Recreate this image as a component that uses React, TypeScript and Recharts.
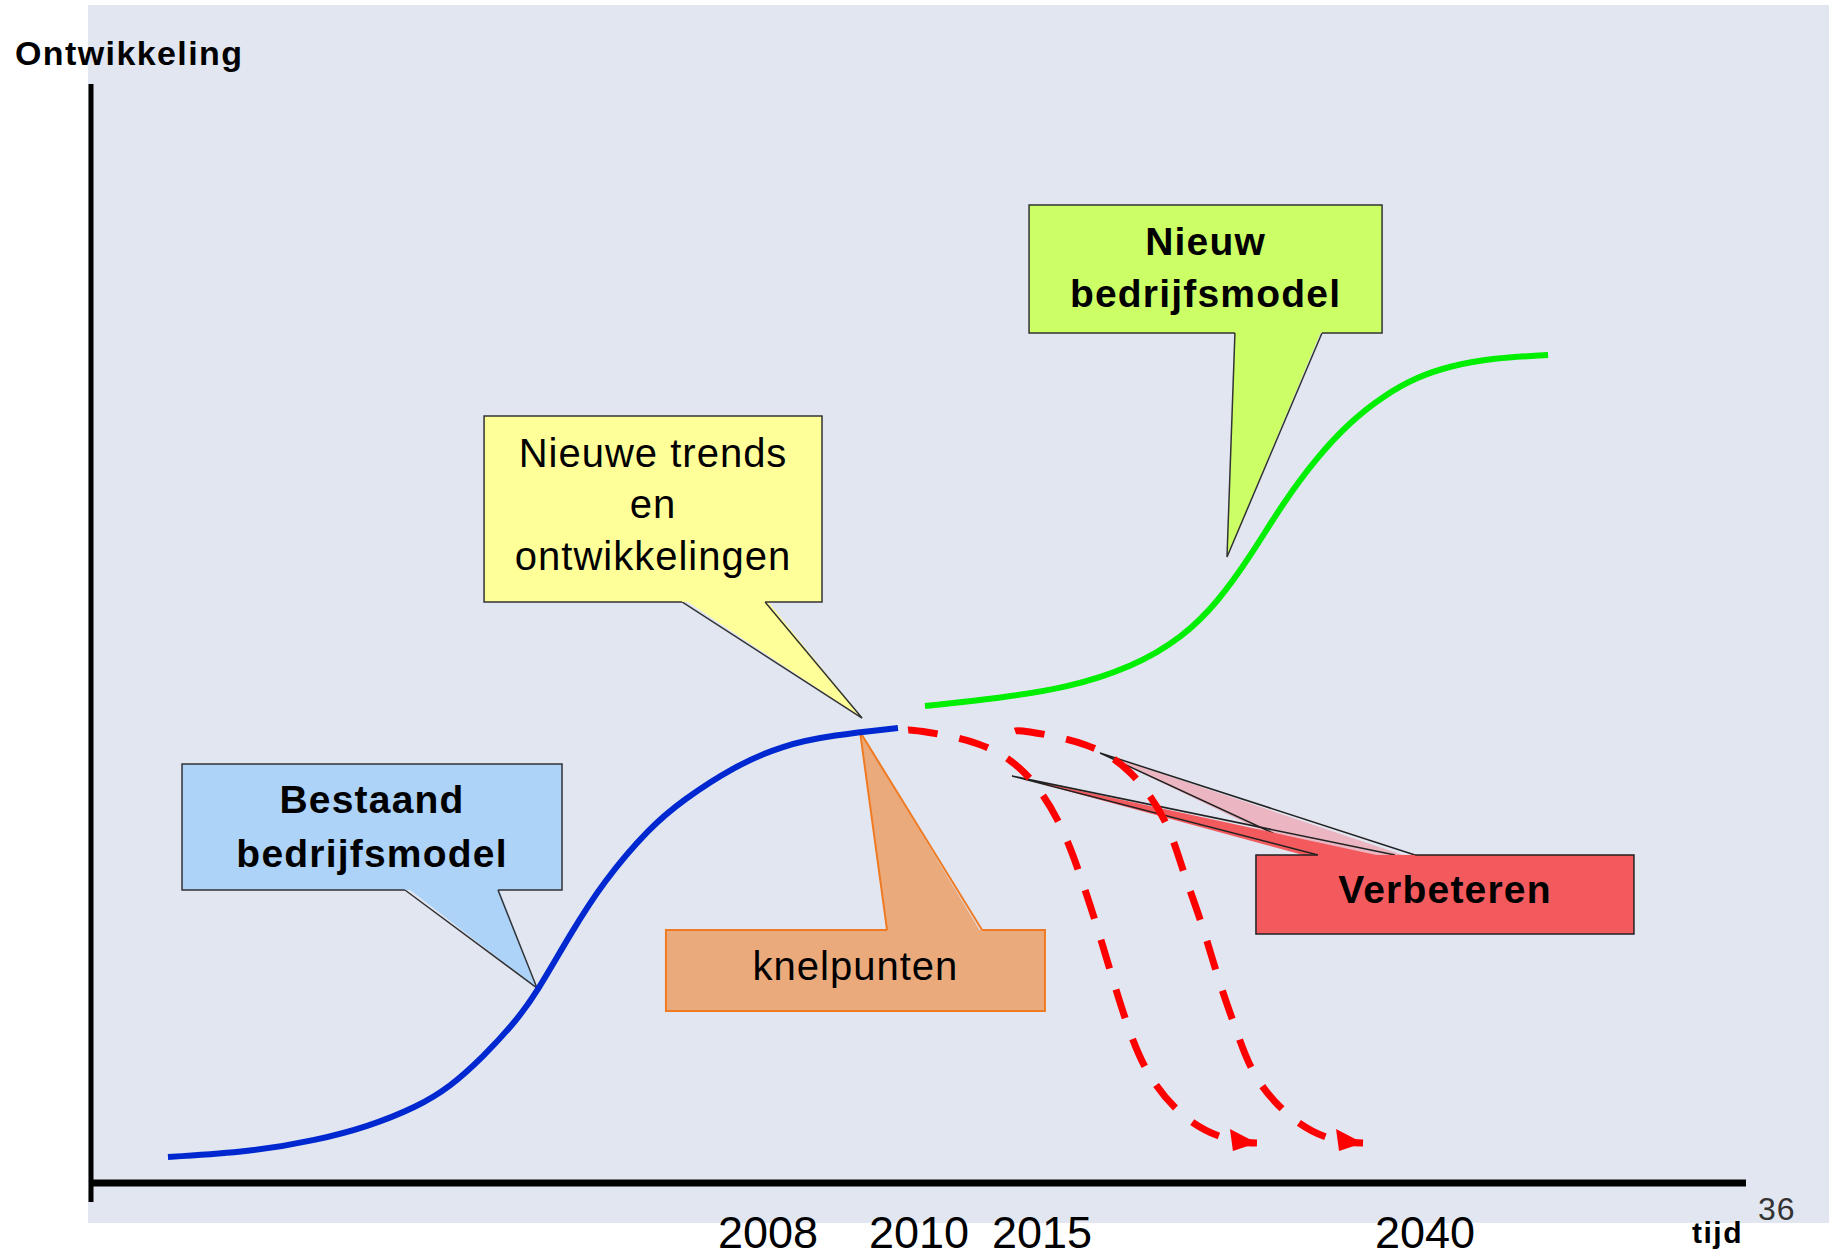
import React from 'react';
import { LineChart, Line, XAxis, YAxis, ReferenceArea, ReferenceLine } from 'recharts';

const FONT = "'Liberation Sans', Arial, Helvetica, sans-serif";

// x: tijd (arbitrary 0..100 units), y: ontwikkeling (0..100)
const bestaandModel = [
  { x: 4.65, y: 2.37 }, { x: 9.61, y: 2.82 }, { x: 13.66, y: 3.91 }, { x: 16.68, y: 5.1 },
  { x: 19.7, y: 6.92 }, { x: 21.69, y: 8.74 }, { x: 23.69, y: 11.47 }, { x: 25.74, y: 14.83 },
  { x: 26.95, y: 17.38 }, { x: 28.94, y: 22.6 }, { x: 30.94, y: 27.4 }, { x: 33.78, y: 32.39 },
  { x: 35.77, y: 34.85 }, { x: 38.79, y: 37.85 }, { x: 41.81, y: 39.85 }, { x: 44.83, y: 40.76 },
  { x: 48.76, y: 41.4 },
];

const nieuwModel = [
  { x: 50.39, y: 43.4 }, { x: 54.92, y: 44.13 }, { x: 58.97, y: 45.04 }, { x: 62.96, y: 46.95 },
  { x: 65.98, y: 49.68 }, { x: 68.04, y: 52.78 }, { x: 70.03, y: 56.96 }, { x: 72.02, y: 61.87 },
  { x: 74.08, y: 66.06 }, { x: 76.07, y: 69.25 }, { x: 78.07, y: 71.61 }, { x: 80.12, y: 73.34 },
  { x: 82.11, y: 74.34 }, { x: 84.71, y: 75.07 }, { x: 88.04, y: 75.34 },
];

const verbeteren1 = [
  { x: 49.37, y: 41.22 }, { x: 50.27, y: 41.08 }, { x: 53.6, y: 39.95 }, { x: 56.44, y: 37.26 },
  { x: 58.4, y: 33.03 }, { x: 59.67, y: 28.39 }, { x: 60.73, y: 23.57 }, { x: 61.72, y: 18.65 },
  { x: 62.78, y: 13.74 }, { x: 64.23, y: 9.19 }, { x: 66.56, y: 5.51 }, { x: 68.94, y: 3.91 },
  { x: 70.45, y: 3.64 },
];

const verbeteren2 = [
  { x: 55.83, y: 41.13 }, { x: 56.74, y: 41.04 }, { x: 60.06, y: 39.88 }, { x: 62.83, y: 37.28 },
  { x: 64.85, y: 33.03 }, { x: 66.0, y: 28.41 }, { x: 67.11, y: 23.55 }, { x: 68.12, y: 18.63 },
  { x: 69.23, y: 13.77 }, { x: 70.59, y: 9.22 }, { x: 72.95, y: 5.51 }, { x: 75.23, y: 3.91 },
  { x: 76.86, y: 3.64 },
];

const tijdTicks = [40.91, 50.03, 57.46, 80.6];
const tijdLabels = ['2008', '2010', '2015', '2040'];

const textBestaand = ['Bestaand', 'bedrijfsmodel'];
const textTrends = ['Nieuwe trends', 'en', 'ontwikkelingen'];
const textNieuw = ['Nieuw', 'bedrijfsmodel'];
const textKnel = ['knelpunten'];
const textVerbeteren = ['Verbeteren'];

type Tail = { side: 'top' | 'bottom'; b1: number; b2: number; tx: number; ty: number; fill?: string };
type Callout = {
  x1: number; x2: number; yTop: number; yBot: number;
  lines: string[]; bold: boolean; fill: string; stroke: string; strokeWidth: number;
  baselines: number[]; tails: Tail[];
};

const callouts: Callout[] = [
  {
    x1: 5.5, x2: 28.46, yTop: 38.13, yBot: 26.66, lines: textBestaand, bold: true,
    fill: '#ADD3F8', stroke: '#333', strokeWidth: 1.5, baselines: [49, 103],
    tails: [{ side: 'bottom', b1: 18.97, b2: 24.59, tx: 26.95, ty: 17.74 }],
  },
  {
    x1: 23.75, x2: 44.17, yTop: 69.79, yBot: 52.87, lines: textTrends, bold: false,
    fill: '#FFFF99', stroke: '#333', strokeWidth: 1.5, baselines: [51, 102, 154],
    tails: [{ side: 'bottom', b1: 35.71, b2: 40.73, tx: 46.59, ty: 42.31 }],
  },
  {
    x1: 56.68, x2: 78.01, yTop: 88.99, yBot: 77.34, lines: textNieuw, bold: true,
    fill: '#CCFF66', stroke: '#333', strokeWidth: 1.5, baselines: [50, 102],
    tails: [{ side: 'bottom', b1: 69.12, b2: 74.38, tx: 68.64, ty: 56.96 }],
  },
  {
    x1: 34.74, x2: 57.64, yTop: 23.02, yBot: 15.65, lines: textKnel, bold: false,
    fill: '#EBAA7C', stroke: '#F07A22', strokeWidth: 2, baselines: [50],
    tails: [{ side: 'top', b1: 48.1, b2: 53.84, tx: 46.47, ty: 41.04 }],
  },
  {
    x1: 70.39, x2: 93.23, yTop: 29.85, yBot: 22.66, lines: textVerbeteren, bold: true,
    fill: '#F25A5E', stroke: '#222', strokeWidth: 1.5, baselines: [48],
    tails: [
      { side: 'top', b1: 74.26, b2: 80.0, tx: 60.97, ty: 39.13, fill: '#EBB6C1' },
      { side: 'top', b1: 74.14, b2: 78.79, tx: 55.65, ty: 37.03, fill: '#F25A5E' },
    ],
  },
];

const CalloutShape = (props: any) => {
  const { x, y, width, height, spec } = props;
  const c: Callout = spec;
  const sx = width / (c.x2 - c.x1);
  const sy = height / (c.yTop - c.yBot);
  const px = (v: number) => x + (v - c.x1) * sx;
  const py = (v: number) => y + (c.yTop - v) * sy;
  const left = x, right = x + width, top = y, bottom = y + height;
  const side = c.tails[0].side;
  const gapL = Math.min(...c.tails.map((t) => px(t.b1)));
  const gapR = Math.max(...c.tails.map((t) => px(t.b2)));
  const outline = side === 'bottom'
    ? `M${gapR},${bottom} L${right},${bottom} L${right},${top} L${left},${top} L${left},${bottom} L${gapL},${bottom}`
    : `M${gapL},${top} L${left},${top} L${left},${bottom} L${right},${bottom} L${right},${top} L${gapR},${top}`;
  const cx = (left + right) / 2;
  return (
    <g>
      {c.tails.map((t, i) => {
        const edge = t.side === 'bottom' ? bottom : top;
        const inset = t.side === 'bottom' ? -4 : 4;
        const a = px(t.b1), b = px(t.b2), tx = px(t.tx), ty = py(t.ty);
        return (
          <g key={i}>
            <path d={`M${a},${edge + inset} L${tx},${ty} L${b},${edge + inset} Z`} fill={t.fill || c.fill} stroke="none" />
            <path d={`M${a},${edge} L${tx},${ty} L${b},${edge}`} fill="none" stroke={c.stroke} strokeWidth={c.strokeWidth} strokeLinejoin="miter" />
          </g>
        );
      })}
      <rect x={left} y={top} width={width} height={height} fill={c.fill} stroke="none" />
      <path d={outline} fill="none" stroke={c.stroke} strokeWidth={c.strokeWidth} />
      {c.lines.map((ln, i) => (
        <text
          key={i}
          x={cx}
          y={top + c.baselines[i]}
          textAnchor="middle"
          fontFamily={FONT}
          fontSize={c.bold ? 39 : 40}
          fontWeight={c.bold ? 700 : 400}
          letterSpacing={c.bold ? 1.2 : 1}
          fill="#000"
        >
          {ln}
        </text>
      ))}
    </g>
  );
};

const renderTick = (props: any) => {
  const { x, y, payload } = props;
  const i = tijdTicks.indexOf(payload.value);
  return (
    <text x={x} y={y + 65} textAnchor="middle" fontFamily={FONT} fontSize={45} fill="#000">
      {i >= 0 ? tijdLabels[i] : ''}
    </text>
  );
};

const makeArrow = (len: number) => (props: any) => {
  const { cx, cy, index } = props;
  if (index !== len - 1 || cx == null || cy == null) return <g key={`d${index}`} />;
  return (
    <path
      key={`d${index}`}
      d={`M${cx},${cy} L${cx - 27},${cy - 14} L${cx - 24},${cy + 8} Z`}
      fill="#FF0000"
      stroke="none"
    />
  );
};

export default function App() {
  return (
    <div style={{ position: 'absolute', left: 0, top: 0, width: 1829, height: 1258, background: '#fff', overflow: 'hidden' }}>
      <div style={{ position: 'absolute', left: 88, top: 5, width: 1741, height: 1218, background: '#E1E6F1' }} />
      <div style={{ position: 'absolute', left: 0, top: 0 }}>
        <LineChart width={1829} height={1258} margin={{ top: 84, right: 83, bottom: 0, left: 91 }}>
          <XAxis
            type="number"
            dataKey="x"
            domain={[0, 100]}
            allowDataOverflow
            ticks={tijdTicks}
            interval={0}
            tick={renderTick}
            tickLine={false}
            tickSize={0}
            tickMargin={0}
            height={75}
            axisLine={{ stroke: '#000', strokeWidth: 7 }}
          />
          <YAxis hide type="number" dataKey="y" domain={[0, 100]} allowDataOverflow />
          <ReferenceLine
            segment={[{ x: 0, y: 100 }, { x: 0, y: -1.73 }]}
            stroke="#000"
            strokeWidth={5}
            ifOverflow="visible"
          />
          {callouts.map((c, i) => (
            <ReferenceArea
              key={i}
              x1={c.x1}
              x2={c.x2}
              y1={c.yBot}
              y2={c.yTop}
              ifOverflow="visible"
              shape={(p: any) => <CalloutShape {...p} spec={c} />}
            />
          ))}
          <Line data={bestaandModel} dataKey="y" type="basis" stroke="#0028D0" strokeWidth={6} dot={false} isAnimationActive={false} />
          <Line data={nieuwModel} dataKey="y" type="basis" stroke="#00EE00" strokeWidth={6} dot={false} isAnimationActive={false} />
          <Line data={verbeteren1} dataKey="y" type="natural" stroke="#FF0000" strokeWidth={7} strokeDasharray="30 22" dot={makeArrow(verbeteren1.length)} isAnimationActive={false} />
          <Line data={verbeteren2} dataKey="y" type="natural" stroke="#FF0000" strokeWidth={7} strokeDasharray="30 22" dot={makeArrow(verbeteren2.length)} isAnimationActive={false} />
        </LineChart>
      </div>
      <svg width={1829} height={1258} style={{ position: 'absolute', left: 0, top: 0, pointerEvents: 'none' }}>
        <text x={15} y={65} fontFamily={FONT} fontSize={34} fontWeight={700} letterSpacing={1.4} fill="#000">Ontwikkeling</text>
        <text x={1692} y={1243} fontFamily={FONT} fontSize={30} fontWeight={700} letterSpacing={1.5} fill="#000">tijd</text>
        <text x={1758} y={1220} fontFamily={FONT} fontSize={32} letterSpacing={1} fill="#333">36</text>
      </svg>
    </div>
  );
}
